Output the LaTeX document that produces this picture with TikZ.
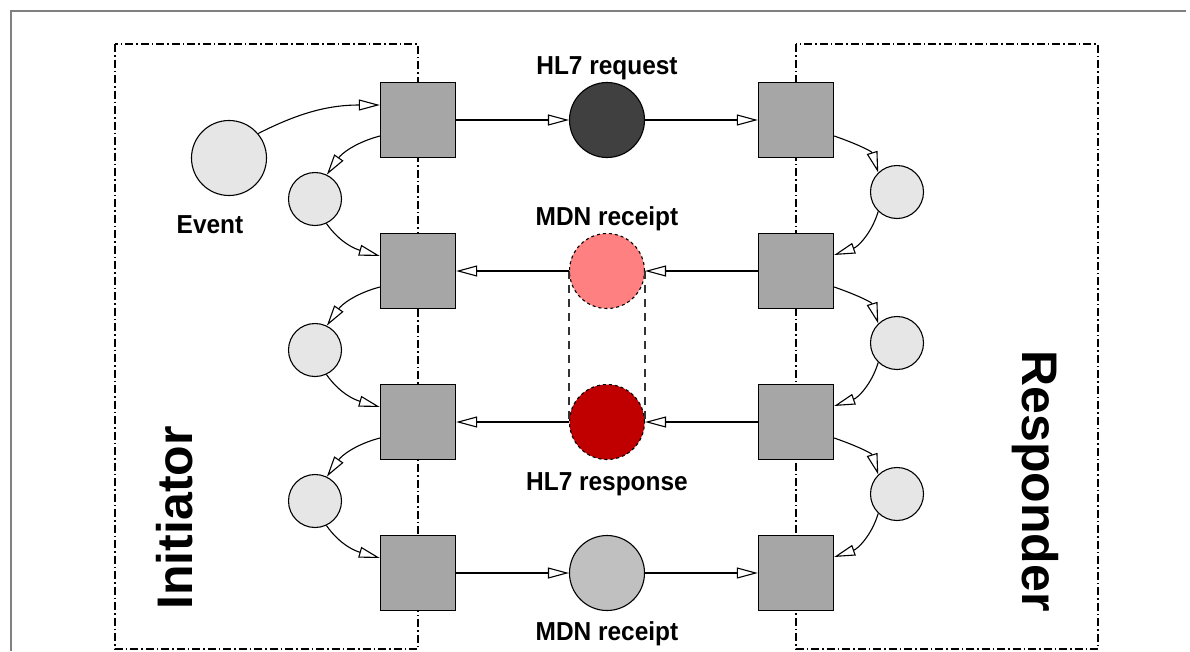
\documentclass[tikz,border=0pt]{standalone}
\usepackage{fontspec}
\setmainfont{Liberation Sans}
\newfontfamily\labfont[FakeStretch=0.94]{Liberation Sans}
\usetikzlibrary{arrows.meta}
\definecolor{sqgray}{HTML}{A6A6A6}
\definecolor{darkfill}{HTML}{404040}
\definecolor{pinkfill}{HTML}{FF8080}
\definecolor{redfill}{HTML}{C00000}
\definecolor{midfill}{HTML}{C0C0C0}
\definecolor{lightfill}{HTML}{E6E6E6}
\definecolor{framegray}{HTML}{808080}
\begin{document}
\begin{tikzpicture}[x=1pt,y=-1pt,
  sq/.style={rectangle, draw=black, line width=1.3pt, fill=sqgray, minimum size=75pt, inner sep=0pt},
  place/.style={circle, draw=black, line width=1.1pt, minimum size=75pt, inner sep=0pt},
  small/.style={circle, draw=black, line width=1.1pt, fill=lightfill, minimum size=53pt, inner sep=0pt},
  lab/.style={font=\labfont\bfseries\fontsize{26}{30}\selectfont, anchor=base, inner sep=0pt},
  big/.style={font=\bfseries\fontsize{50}{60}\selectfont, anchor=base, inner sep=0pt},
  arr/.style={line width=1.1pt, -{Triangle[open, length=21pt, width=11pt]}},
  rolebox/.style={draw=black, line width=1.2pt, dash pattern=on 8pt off 3pt on 1.5pt off 3pt},
  link/.style={draw=black!80, line width=1.3pt, dash pattern=on 8pt off 6pt},
  ]
\useasboundingbox (0,0) rectangle (1190,651);
% outer frame
\draw[framegray, line width=1.5pt] (11,651) -- (11,11) -- (1186,11);
% role boxes
\draw[rolebox] (115,44) rectangle (418,649);
\draw[rolebox] (796,44) rectangle (1098,649);
% squares
\node[sq] (L1) at (418,120) {};
\node[sq] (L2) at (418,271) {};
\node[sq] (L3) at (418,422) {};
\node[sq] (L4) at (418,573) {};
\node[sq] (R1) at (796,120) {};
\node[sq] (R2) at (796,271) {};
\node[sq] (R3) at (796,422) {};
\node[sq] (R4) at (796,573) {};
% central places
\node[place, fill=darkfill] (P1) at (607,120) {};
\node[place, fill=pinkfill, dashed] (P2) at (607,271) {};
\node[place, fill=redfill, dashed] (P3) at (607,422) {};
\node[place, fill=midfill] (P4) at (607,573) {};
% event and small places
\node[place, fill=lightfill] (E) at (229,158) {};
\node[small] (A1) at (315,199) {};
\node[small] (A2) at (315,350) {};
\node[small] (A3) at (315,501) {};
\node[small] (B1) at (897,192) {};
\node[small] (B2) at (897,343) {};
\node[small] (B3) at (897,494) {};
% labels
\node[lab] (t1) at (607,74) {HL7 request};
\node[lab] (t2) at (607,225) {MDN receipt};
\node[lab] (t3) at (607,490) {HL7 response};
\node[lab] (t4) at (607,640) {MDN receipt};
\node[lab] (te) at (210,233) {Event};
\node[big, rotate=90] (ini) at (192,518) {Initiator};
\node[big, rotate=-90] (res) at (1022,481) {Responder};
% dashed link between MDN receipt and HL7 response
\draw[link] (P2.west) -- (P3.west);
\draw[link] (P2.east) -- (P3.east);
% horizontal arcs
\draw[arr] (L1.east) -- (P1.west);
\draw[arr] (P1.east) -- (R1.west);
\draw[arr] (R2.west) -- (P2.east);
\draw[arr] (P2.west) -- (L2.east);
\draw[arr] (R3.west) -- (P3.east);
\draw[arr] (P3.west) -- (L3.east);
\draw[arr] (L4.east) -- (P4.west);
\draw[arr] (P4.east) -- (R4.west);
% event arc
\draw[arr] (E.40) to[out=27, in=180] ([yshift=15pt]L1.west);
% initiator side loops
\foreach \s/\c/\n in {L1/A1/L2, L2/A2/L3, L3/A3/L4} {
  \draw[arr] ([yshift=-16pt]\s.west) to[out=195, in=55] (\c.64);
  \draw[arr] (\c.-65) to[out=-55, in=164] ([yshift=15pt]\n.west);
}
% responder side loops
\foreach \s/\c/\n in {R1/B1/R2, R2/B2/R3, R3/B3/R4} {
  \draw[arr] ([yshift=-16pt]\s.east) to[out=-19, in=107] (\c.134);
  \draw[arr] (\c.226) to[out=-107, in=19] ([yshift=16pt]\n.east);
}
\end{tikzpicture}
\end{document}
